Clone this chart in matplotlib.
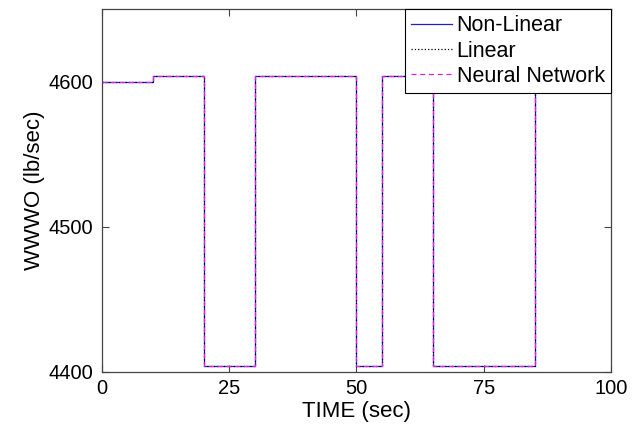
import matplotlib
matplotlib.use("Agg")
import matplotlib.pyplot as plt

plt.rcParams['font.family'] = ['Liberation Sans', 'DejaVu Sans']

# step profile of the water flow command (sec, lb/sec)
time_pts = [0, 10, 10, 20, 20, 30, 30, 50, 50, 55, 55, 65, 65, 85, 85, 100]
flow_nonlinear = [4600, 4600, 4604, 4604, 4404, 4404, 4604, 4604,
                  4404, 4404, 4604, 4604, 4404, 4404, 4604, 4604]
flow_linear = [4600, 4600, 4604, 4604, 4404, 4404, 4604, 4604,
               4404, 4404, 4604, 4604, 4404, 4404, 4604, 4604]
flow_nn = [4600, 4600, 4604, 4604, 4404, 4404, 4604, 4604,
           4404, 4404, 4604, 4604, 4404, 4404, 4604, 4604]

x_ticks = [0, 25, 50, 75, 100]
y_ticks = [4400, 4500, 4600]

fig = plt.figure(figsize=(6.4, 4.25), dpi=100)
ax = fig.add_axes([0.159, 0.125, 0.796, 0.854])

ax.plot(time_pts, flow_nonlinear, color='#2020c0', lw=0.9, label='Non-Linear')
ax.plot(time_pts, flow_linear, color='black', lw=0.9, ls=':', label='Linear')
ax.plot(time_pts, flow_nn, color='#e020e0', lw=0.9, ls=(0, (4, 3)), label='Neural Network')

ax.set_xlim(0, 100)
ax.set_ylim(4400, 4650)
ax.set_xticks(x_ticks)
ax.set_yticks(y_ticks)
ax.tick_params(direction='in', top=True, right=True, labelsize=14.5, length=5,
               width=0.8, color='#444444')
ax.tick_params(axis='x', pad=5)
ax.tick_params(axis='y', pad=6)
for s in ax.spines.values():
    s.set_color('#444444')
    s.set_linewidth(0.9)

ax.set_xlabel('TIME (sec)', fontsize=16, labelpad=2)
ax.set_ylabel('WWWO (lb/sec)', fontsize=16, labelpad=3)

leg = ax.legend(loc='upper right', fontsize=15.5, borderaxespad=0, fancybox=False,
                framealpha=1, edgecolor='black', handlelength=1.9,
                handletextpad=0.2, labelspacing=0.2, borderpad=0.3)
leg.get_frame().set_linewidth(0.8)

fig.savefig('out.png', dpi=100)
